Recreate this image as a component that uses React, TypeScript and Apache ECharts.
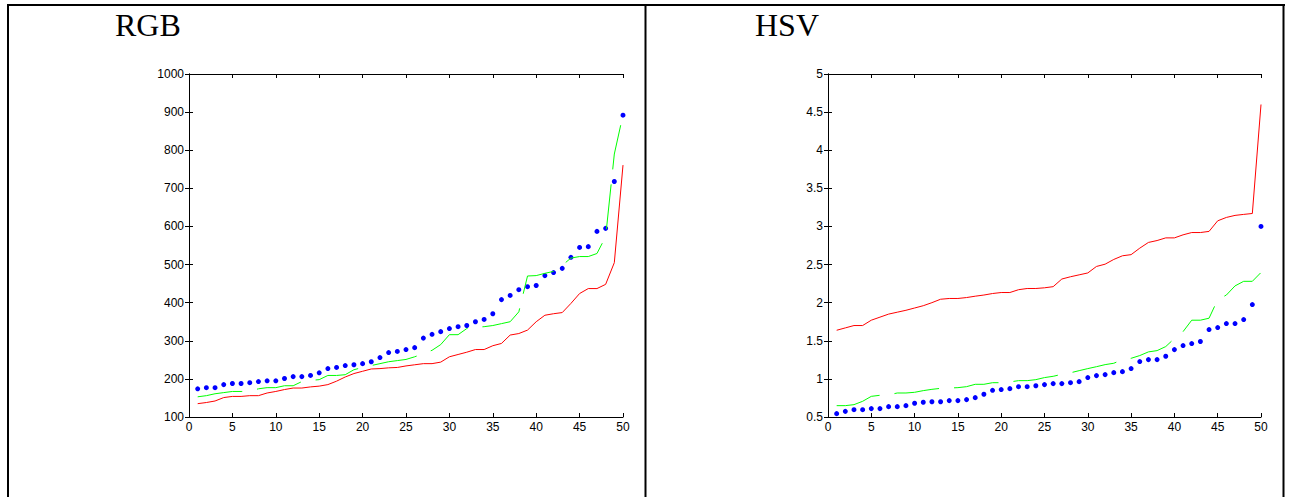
import React, { useEffect, useRef } from "react";
import * as echarts from "echarts";

const xIndex = [
  1, 2, 3, 4, 5, 6, 7, 8, 9, 10, 11, 12, 13, 14, 15, 16, 17, 18, 19, 20, 21, 22, 23, 24, 25,
  26, 27, 28, 29, 30, 31, 32, 33, 34, 35, 36, 37, 38, 39, 40, 41, 42, 43, 44, 45, 46, 47, 48, 49, 50,
];

const rgbRed = [
  135, 138, 142, 151, 154, 154, 156, 156, 163, 167, 172, 176, 176, 179, 181, 185, 194, 205, 214, 220,
  226, 227, 229, 230, 234, 237, 240, 240, 244, 258, 264, 270, 277, 277, 287, 293, 315, 319, 328, 350,
  367, 371, 374, 398, 424, 437, 437, 448, 505, 761,
];
const rgbGreen = [
  153, 156, 161, 164, 167, 167, 168, 174, 177, 177, 182, 182, 193, 196, 198, 209, 209, 211, 224, 230,
  235, 240, 245, 248, 251, 258, 266, 275, 290, 316, 316, 332, 335, 337, 340, 345, 350, 376, 470, 471,
  477, 482, 498, 517, 521, 521, 529, 573, 790, 893,
];
const rgbBlue = [
  174, 177, 177, 185, 188, 188, 190, 193, 195, 195, 201, 206, 206, 209, 216, 227, 230, 235, 237, 240,
  245, 256, 269, 272, 277, 282, 307, 317, 324, 332, 337, 340, 350, 356, 371, 408, 419, 434, 442, 445,
  471, 479, 490, 519, 545, 547, 587, 595, 718, 892,
];

const hsvRed = [
  1.638, 1.669, 1.7, 1.7, 1.77, 1.81, 1.85, 1.875, 1.9, 1.93, 1.96, 2.0, 2.045, 2.055, 2.055, 2.067,
  2.085, 2.1, 2.12, 2.133, 2.133, 2.17, 2.186, 2.186, 2.195, 2.21, 2.31, 2.34, 2.365, 2.39, 2.475,
  2.505, 2.567, 2.615, 2.63, 2.715, 2.79, 2.815, 2.85, 2.85, 2.89, 2.92, 2.92, 2.935, 3.074, 3.118,
  3.145, 3.158, 3.17, 4.6,
];
const hsvGreen = [
  0.649, 0.649, 0.662, 0.706, 0.771, 0.785, 0.79, 0.815, 0.815, 0.824, 0.846, 0.863, 0.876, 0.88,
  0.885, 0.898, 0.929, 0.929, 0.95, 0.95, 0.96, 0.977, 0.977, 0.99, 1.017, 1.034, 1.06, 1.08, 1.108,
  1.135, 1.16, 1.187, 1.205, 1.253, 1.27, 1.306, 1.354, 1.371, 1.424, 1.53, 1.62, 1.77, 1.77, 1.796,
  2.04, 2.1, 2.22, 2.28, 2.28, 2.396,
];
const hsvBlue = [
  0.544, 0.574, 0.596, 0.596, 0.61, 0.61, 0.636, 0.636, 0.649, 0.68, 0.693, 0.7, 0.7, 0.715, 0.715,
  0.728, 0.754, 0.798, 0.85, 0.86, 0.872, 0.898, 0.898, 0.91, 0.925, 0.938, 0.938, 0.95, 0.964, 1.017,
  1.043, 1.056, 1.082, 1.095, 1.135, 1.227, 1.253, 1.253, 1.297, 1.384, 1.437, 1.463, 1.49, 1.647,
  1.673, 1.726, 1.726, 1.778, 1.975, 3.0,
];

const titles = ["RGB", "HSV"];

const pairs = (ys: number[]) => ys.map((y, i) => [xIndex[i], y]);

export default function App() {
  const ref = useRef<HTMLDivElement>(null);
  useEffect(() => {
    if (!ref.current) return;
    const chart = echarts.init(ref.current, undefined, { renderer: "svg" });
    const labelStyle = {
      color: "#000",
      fontFamily: "Liberation Sans",
      fontSize: 12,
      formatter: (v: number) => String(v),
    };
    const axisLine = { show: true, lineStyle: { color: "#000", width: 1 } };
    const tick = (show: boolean) => ({ show, inside: true, length: 4, lineStyle: { color: "#000" } });

    const grids = [
      { left: 189, top: 74, width: 434, height: 343 },
      { left: 828, top: 74, width: 433, height: 343 },
    ];
    const xAxes: any[] = [];
    const yAxes: any[] = [];
    const yCfg = [
      { min: 100, max: 1000, interval: 100 },
      { min: 0.5, max: 5, interval: 0.5 },
    ];
    grids.forEach((_, gi) => {
      xAxes.push({
        type: "value", gridIndex: gi, position: "bottom", min: 0, max: 50, interval: 5,
        axisLine, axisTick: tick(true), splitLine: { show: false },
        axisLabel: { ...labelStyle, margin: 4 },
      });
      xAxes.push({
        type: "value", gridIndex: gi, position: "top", min: 0, max: 50, interval: 5,
        axisLine, axisTick: tick(true), splitLine: { show: false }, axisLabel: { show: false },
      });
      yAxes.push({
        type: "value", gridIndex: gi, position: "left", ...yCfg[gi],
        axisLine, axisTick: tick(true), splitLine: { show: false },
        axisLabel: { ...labelStyle, margin: 5 },
      });
      yAxes.push({
        type: "value", gridIndex: gi, position: "right", ...yCfg[gi],
        axisLine, axisTick: tick(true), splitLine: { show: false }, axisLabel: { show: false },
      });
    });

    const mk = (gi: number, red: number[], green: number[], blue: number[]) => [
      {
        type: "line", xAxisIndex: gi * 2, yAxisIndex: gi * 2, data: pairs(red), showSymbol: false,
        lineStyle: { color: "#ff0000", width: 1 }, itemStyle: { color: "#ff0000" },
      },
      {
        type: "line", xAxisIndex: gi * 2, yAxisIndex: gi * 2, data: pairs(green), showSymbol: false,
        lineStyle: { color: "#00ff00", width: 1, type: [45, 15] }, itemStyle: { color: "#00ff00" },
      },
      {
        type: "scatter", xAxisIndex: gi * 2, yAxisIndex: gi * 2, data: pairs(blue), symbolSize: 5,
        itemStyle: { color: "#0000ff", opacity: 1 }, clip: false,
      },
    ];

    chart.setOption({
      animation: false,
      backgroundColor: "#fff",
      grid: grids,
      xAxis: xAxes,
      yAxis: yAxes,
      series: [...mk(0, rgbRed, rgbGreen, rgbBlue), ...mk(1, hsvRed, hsvGreen, hsvBlue)],
      graphic: [
        { type: "line", shape: { x1: 7, y1: 5, x2: 1285, y2: 5 }, style: { stroke: "#000", lineWidth: 2 } },
        { type: "line", shape: { x1: 8, y1: 5, x2: 8, y2: 497 }, style: { stroke: "#000", lineWidth: 2 } },
        { type: "line", shape: { x1: 645.5, y1: 5, x2: 645.5, y2: 497 }, style: { stroke: "#000", lineWidth: 2 } },
        { type: "line", shape: { x1: 1283.5, y1: 5, x2: 1283.5, y2: 497 }, style: { stroke: "#000", lineWidth: 2 } },
        {
          type: "text", x: 115, y: 25,
          style: { text: titles[0], fill: "#000", font: "32px 'Liberation Serif'", verticalAlign: "middle" },
        },
        {
          type: "text", x: 755, y: 25,
          style: { text: titles[1], fill: "#000", font: "32px 'Liberation Serif'", verticalAlign: "middle" },
        },
      ],
    });
    return () => chart.dispose();
  }, []);
  return (
    <div
      ref={ref}
      style={{ position: "fixed", left: 0, top: 0, width: 1291, height: 497 }}
    />
  );
}
